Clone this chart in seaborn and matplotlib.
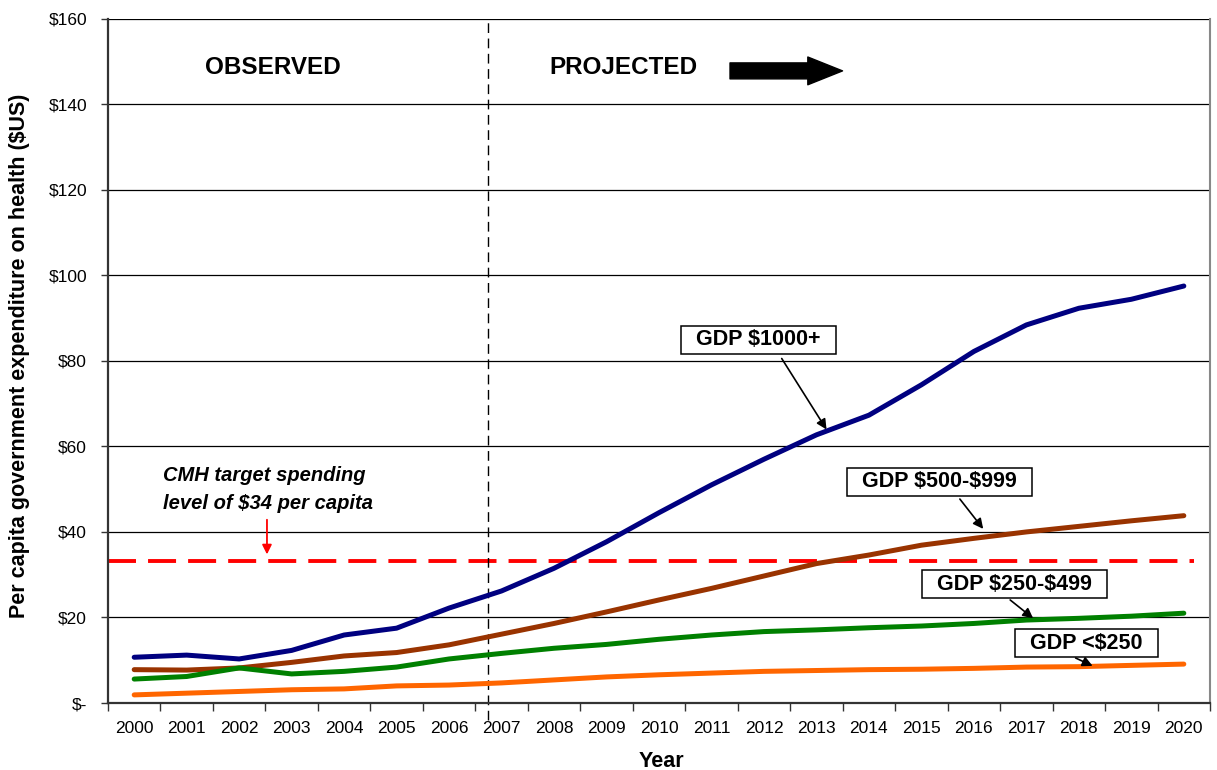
import pandas as pd
import seaborn as sns
import matplotlib.pyplot as plt

years = list(range(2000, 2021))
gdp_1000 = [10.7, 11.2, 10.3, 12.3, 15.9, 17.5, 22.2, 26.2, 31.5, 37.7, 44.5,
            51.0, 57.0, 62.7, 67.3, 74.4, 82.2, 88.4, 92.3, 94.4, 97.5]
gdp_500 = [7.8, 7.7, 8.2, 9.5, 11.0, 11.8, 13.6, 16.1, 18.6, 21.3, 24.1,
           26.8, 29.7, 32.6, 34.6, 36.9, 38.5, 40.0, 41.3, 42.6, 43.8]
gdp_250 = [5.6, 6.2, 8.2, 6.8, 7.4, 8.4, 10.3, 11.6, 12.8, 13.7, 14.9,
           15.9, 16.7, 17.1, 17.6, 18.0, 18.6, 19.4, 19.8, 20.3, 21.0]
gdp_low = [1.9, 2.3, 2.7, 3.1, 3.3, 4.0, 4.2, 4.7, 5.4, 6.1, 6.6,
           7.0, 7.4, 7.6, 7.8, 7.9, 8.1, 8.4, 8.5, 8.8, 9.1]
series_names = ['GDP $1000+', 'GDP $500-$999', 'GDP $250-$499', 'GDP <$250']
series_colors = ['#000080', '#993300', '#008000', '#FF6600']
target_level = 33.2
y_ticks = [0, 20, 40, 60, 80, 100, 120, 140, 160]
y_tick_labels = ['$-', '$20', '$40', '$60', '$80', '$100', '$120', '$140', '$160']

rows = []
for name, vals in zip(series_names, [gdp_1000, gdp_500, gdp_250, gdp_low]):
    for y, v in zip(years, vals):
        rows.append({'Year': y, 'Value': v, 'Group': name})
df = pd.DataFrame(rows)

sns.set_style('white')
plt.rcParams['font.family'] = ['Liberation Sans', 'DejaVu Sans']
plt.rcParams['text.parse_math'] = False
for k in ['text.color', 'axes.labelcolor', 'xtick.color', 'ytick.color']:
    plt.rcParams[k] = 'black'

fig = plt.figure(figsize=(12.17, 7.70), dpi=100)
ax = fig.add_axes([0.0887, 0.0870, 0.9056, 0.8887])

for y in y_ticks[1:]:
    ax.axhline(y, color='black', lw=0.9, zorder=1)

sns.lineplot(data=df, x='Year', y='Value', hue='Group', palette=series_colors,
             hue_order=series_names, lw=3.6, ax=ax, legend=False, zorder=3,
             solid_capstyle='round')

# CMH target line and observed/projected divider
ax.axhline(target_level, xmin=0, xmax=0.985, color='#FF0000', lw=2.8,
           dashes=(7.2, 3.1), zorder=2)
ax.axvline(2006.75, ymin=-0.025, ymax=1, color='black', lw=1.0, dashes=(7, 4),
           zorder=2, clip_on=False)

ax.set_xlim(1999.5, 2020.5)
ax.set_ylim(0, 160)
ax.set_xticks(years)
ax.set_xticklabels([str(y) for y in years], fontsize=12.5)
ax.set_xticks([y - 0.5 for y in years] + [2020.5], minor=True)
ax.tick_params(axis='x', which='major', length=0, pad=13)
ax.tick_params(axis='x', which='minor', length=6, width=1, direction='out',
               bottom=True, color='#333333')
ax.set_yticks(y_ticks)
ax.set_yticklabels(y_tick_labels, fontsize=12.5)
ax.tick_params(axis='y', length=5, width=1, direction='out', left=True, pad=10,
               color='#333333')

for s in ['left', 'bottom']:
    ax.spines[s].set_color('#333333')
    ax.spines[s].set_linewidth(1.6)
ax.spines['right'].set_color('#888888')
ax.spines['right'].set_linewidth(1.5)
ax.spines['top'].set_visible(False)

ax.set_xlabel('')
ax.set_ylabel('')
fig.text(661 / 1217, 1 - 751 / 770, 'Year', fontsize=15.5, fontweight='bold',
         ha='center', va='top')
fig.text(20 / 1217, 1 - 356 / 770, 'Per capita government expenditure on health ($US)',
         fontsize=15.5, fontweight='bold', rotation=90, ha='center', va='center')

ax.text(2002.64, 148.5, 'OBSERVED', fontsize=17.5, fontweight='bold',
        ha='center', va='center')
ax.text(2009.33, 148.5, 'PROJECTED', fontsize=17.5, fontweight='bold',
        ha='center', va='center')
ax.annotate('', xy=(2013.55, 147.8), xytext=(2011.3, 147.8),
            arrowprops=dict(arrowstyle='simple,head_length=2.5,head_width=2.0,tail_width=1.15',
                            mutation_scale=10, fc='black', ec='black'))

ax.text(2000.55, 49.9, 'CMH target spending\nlevel of $34 per capita', fontsize=14.5,
        fontweight='bold', fontstyle='italic', ha='left', va='center',
        linespacing=1.55)
ax.annotate('', xy=(2002.53, 34.1), xytext=(2002.53, 43.5),
            arrowprops=dict(arrowstyle='-|>', color='#FF0000', lw=1.3,
                            mutation_scale=14))

box_labels = [
    ('GDP $1000+', (2011.89, 84.9), (2012.31, 81.1), (2013.22, 63.4)),
    ('GDP $500-$999', (2015.34, 51.7), (2015.70, 48.2), (2016.21, 40.2)),
    ('GDP $250-$499', (2016.77, 27.8), (2016.65, 24.5), (2017.17, 19.4)),
    ('GDP <$250', (2018.14, 14.0), (2017.89, 10.8), (2018.31, 8.4)),
]
for label, center, tail, head in box_labels:
    ax.annotate('', xy=head, xytext=tail,
                arrowprops=dict(arrowstyle='-|>', color='black', lw=1.2,
                                mutation_scale=15), zorder=5)
    ax.text(center[0], center[1], '  ' + label + '  ', fontsize=15.5,
            fontweight='bold', ha='center', va='center', zorder=6,
            bbox=dict(boxstyle='square,pad=0.15', fc='white', ec='black', lw=1.1))

fig.savefig('out.png', dpi=100)
